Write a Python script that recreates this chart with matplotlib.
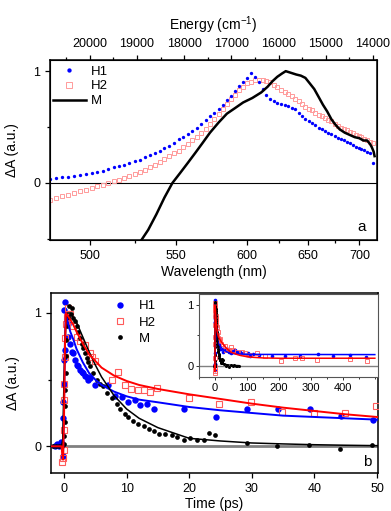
import numpy as np
import matplotlib
matplotlib.use("Agg")
import matplotlib.pyplot as plt
from matplotlib.ticker import MultipleLocator, FixedLocator

plt.rcParams['font.family'] = ['Liberation Sans', 'DejaVu Sans']
plt.rcParams['mathtext.fontset'] = 'custom'
plt.rcParams['mathtext.rm'] = 'Liberation Sans'
plt.rcParams['mathtext.it'] = 'Liberation Sans'

# ---------------- Panel a: spectra ----------------
h1_wl = [480, 483, 486, 489, 492, 495, 498, 501, 504, 507, 510, 513, 516, 519, 522, 525, 528, 531, 534, 537,
         540, 543, 546, 549, 552, 555, 558, 561, 564, 567, 570, 573, 576, 579, 582, 585, 588, 591, 594, 597,
         600, 603, 606, 609, 612, 615, 618, 621, 624, 627, 630, 633, 636, 639, 642, 645, 648, 651, 654, 657,
         660, 663, 666, 669, 672, 675, 678, 681, 684, 687, 690, 693, 696, 699, 702, 705, 708, 711, 714]
h1_val = [0.04, 0.045, 0.05, 0.055, 0.065, 0.07, 0.08, 0.09, 0.10, 0.11, 0.125, 0.14, 0.155, 0.165, 0.18, 0.195,
          0.21, 0.23, 0.25, 0.27, 0.29, 0.31, 0.33, 0.36, 0.39, 0.415, 0.44, 0.465, 0.49, 0.525, 0.56, 0.595,
          0.63, 0.665, 0.70, 0.74, 0.78, 0.825, 0.87, 0.905, 0.94, 0.98, 0.95, 0.90, 0.84, 0.79, 0.75, 0.73,
          0.715, 0.705, 0.695, 0.685, 0.675, 0.66, 0.63, 0.60, 0.575, 0.555, 0.535, 0.515, 0.495, 0.48, 0.465,
          0.45, 0.435, 0.42, 0.405, 0.39, 0.38, 0.37, 0.355, 0.34, 0.325, 0.315, 0.305, 0.295, 0.28, 0.27, 0.18]

h2_wl = [480, 483, 486, 489, 492, 495, 498, 501, 504, 507, 510, 513, 516, 519, 522, 525, 528, 531, 534, 537,
         540, 543, 546, 549, 552, 555, 558, 561, 564, 567, 570, 573, 576, 579, 582, 585, 588, 591, 594, 597,
         600, 603, 606, 609, 612, 615, 618, 621, 624, 627, 630, 633, 636, 639, 642, 645, 648, 651, 654, 657,
         660, 663, 666, 669, 672, 675, 678, 681, 684, 687, 690, 693, 696, 699, 702, 705, 708, 711, 714]
h2_val = [-0.15, -0.135, -0.12, -0.105, -0.09, -0.075, -0.06, -0.045, -0.03, -0.015, 0.0, 0.015, 0.03, 0.045,
          0.065, 0.08, 0.10, 0.12, 0.14, 0.165, 0.19, 0.215, 0.24, 0.265, 0.29, 0.32, 0.35, 0.38, 0.41, 0.445,
          0.48, 0.525, 0.57, 0.615, 0.66, 0.705, 0.75, 0.79, 0.83, 0.86, 0.89, 0.905, 0.92, 0.925, 0.92, 0.91,
          0.90, 0.88, 0.86, 0.835, 0.81, 0.795, 0.78, 0.755, 0.73, 0.705, 0.68, 0.665, 0.65, 0.63, 0.61, 0.595,
          0.58, 0.565, 0.55, 0.53, 0.51, 0.495, 0.48, 0.47, 0.46, 0.445, 0.43, 0.42, 0.41, 0.395, 0.38, 0.37, 0.36]

m_wl = [529, 533, 538, 543, 548, 553, 558, 563, 568, 573, 579, 585, 591, 597, 604, 611, 616, 620, 624, 628,
        631, 634, 637, 640, 644, 648, 652, 656, 660, 664, 668, 672, 676, 680, 685, 690, 695, 700, 704, 708,
        711, 713, 715, 716]
m_val = [-0.51, -0.42, -0.28, -0.13, 0.0, 0.09, 0.18, 0.27, 0.36, 0.45, 0.54, 0.62, 0.67, 0.72, 0.76, 0.81,
         0.86, 0.91, 0.95, 0.98, 1.0, 0.99, 0.98, 0.97, 0.96, 0.94, 0.89, 0.84, 0.77, 0.70, 0.64, 0.57, 0.52,
         0.48, 0.45, 0.43, 0.41, 0.40, 0.38, 0.38, 0.35, 0.32, 0.28, 0.24]

wl_ticks = [500, 550, 600, 650, 700]
wl_minor = [525, 575, 625, 675]
energy_ticks = [20000, 19000, 18000, 17000, 16000, 15000, 14000]
energy_minor = [20500, 19500, 18500, 17500, 16500, 15500, 14500]

# ---------------- Panel b: kinetics ----------------
h1_t = [-1.5, -1.1, -0.8, -0.5, -0.3, -0.2, -0.15, -0.1, 0.0, 0.0, 0.1, 0.05, 0.15, 0.45, 0.6, 0.7, 0.95,
        1.2, 1.5, 1.75, 2.1, 2.3, 2.55, 2.8, 3.1, 3.4, 3.6, 3.9, 4.1, 4.9, 7.1, 8.1, 9.2, 10.3, 11.3, 12.1,
        13.2, 14.3, 19.1, 24.3, 29.2, 34.2, 39.3, 44.3, 49.3]
h1_v = [0.0, 0.02, 0.0, 0.03, 0.01, -0.07, 0.21, 0.33, 0.47, 0.65, 0.72, 1.02, 1.08, 0.97, 0.92, 0.82, 0.77,
        0.71, 0.70, 0.65, 0.61, 0.60, 0.57, 0.56, 0.55, 0.53, 0.52, 0.50, 0.51, 0.46, 0.46, 0.38, 0.37, 0.33,
        0.35, 0.31, 0.32, 0.28, 0.28, 0.22, 0.28, 0.28, 0.28, 0.23, 0.20]

h2_t = [-0.25, -0.15, -0.05, 0.0, 0.0, 0.05, 0.1, 0.1, 0.3, 0.45, 0.7, 0.95, 1.5, 2.0, 2.6, 3.3, 4.1, 4.4,
        5.0, 7.6, 8.7, 9.7, 10.7, 11.8, 12.8, 13.8, 14.8, 19.9, 24.8, 29.8, 34.9, 39.9, 44.9, 49.8]
h2_v = [-0.12, -0.09, -0.03, 0.12, 0.35, 0.47, 0.67, 0.81, 0.92, 0.97, 1.04, 0.99, 0.90, 0.82, 0.79, 0.76,
        0.70, 0.67, 0.64, 0.50, 0.56, 0.46, 0.43, 0.42, 0.42, 0.41, 0.44, 0.36, 0.32, 0.33, 0.26, 0.25, 0.25, 0.30]

m_t = [-1.7, -1.2, -0.8, -0.4, 0.0, 0.05, 0.1, 0.15, 0.2, 0.25, 0.3, 0.35, 0.45, 0.6, 0.85, 1.07, 1.23, 1.5,
       1.76, 2.0, 2.3, 2.56, 2.8, 3.1, 3.35, 3.6, 3.9, 4.15, 4.7, 5.2, 5.75, 6.3, 6.8, 7.6, 8.4, 8.9, 9.7,
       10.3, 11.1, 11.9, 12.7, 13.5, 14.3, 15.1, 16.1, 17.2, 18.0, 19.1, 20.2, 21.2, 22.3, 23.1, 24.1, 29.2,
       34.1, 39.1, 44.1, 49.2]
m_v = [0.0, 0.0, 0.0, 0.0, 0.02, 0.08, 0.18, 0.3, 0.42, 0.55, 0.68, 0.8, 0.9, 0.97, 1.05, 0.99, 1.04, 0.96,
       0.94, 0.90, 0.86, 0.81, 0.77, 0.74, 0.70, 0.66, 0.63, 0.60, 0.55, 0.50, 0.47, 0.45, 0.40, 0.36, 0.32,
       0.28, 0.24, 0.22, 0.19, 0.17, 0.15, 0.13, 0.115, 0.09, 0.095, 0.088, 0.07, 0.045, 0.06, 0.05, 0.045,
       0.10, 0.085, 0.025, 0.0, 0.013, -0.02, 0.008]

# long-delay points (inset only)
h1_t_long = [55, 62, 70, 78, 88, 99, 104, 110, 119, 137, 178, 219, 266, 323, 369, 421, 473]
h1_v_long = [0.24, 0.26, 0.22, 0.23, 0.21, 0.18, 0.20, 0.16, 0.19, 0.18, 0.16, 0.165, 0.15, 0.19, 0.16, 0.18, 0.14]
h2_t_long = [57, 70, 83, 94, 110, 130, 156, 208, 250, 271, 320, 422, 474]
h2_v_long = [0.26, 0.22, 0.23, 0.20, 0.17, 0.20, 0.16, 0.08, 0.12, 0.12, 0.09, 0.11, 0.07]
m_t_long = [55, 60, 65, 70, 75]
m_v_long = [0.0, 0.005, -0.005, 0.0, 0.0]

# fit curves
fit_h1_t = [-2, -0.4, -0.15, 0.0, 0.15, 0.3, 0.6, 1, 1.5, 2, 3, 4, 5, 6, 8, 10, 12, 15, 20, 25, 30, 35, 40,
            45, 50, 60, 80, 100, 150, 500]
fit_h1_v = [0.0, 0.0, -0.05, 0.3, 0.8, 1.0, 0.93, 0.86, 0.80, 0.73, 0.63, 0.55, 0.50, 0.46, 0.41, 0.375, 0.35,
            0.33, 0.295, 0.27, 0.25, 0.23, 0.22, 0.21, 0.20, 0.195, 0.19, 0.185, 0.183, 0.18]
fit_h2_t = [-2, -0.4, -0.15, 0.0, 0.15, 0.3, 0.6, 1, 1.5, 2, 3, 4, 5, 6, 8, 10, 12, 15, 20, 25, 30, 35, 40,
            45, 50, 60, 70, 80, 100, 120, 150, 200, 500]
fit_h2_v = [0.0, 0.0, -0.10, 0.2, 0.75, 1.0, 0.98, 0.95, 0.91, 0.86, 0.77, 0.69, 0.64, 0.59, 0.53, 0.49, 0.46,
            0.43, 0.39, 0.355, 0.32, 0.29, 0.265, 0.24, 0.22, 0.20, 0.18, 0.165, 0.145, 0.135, 0.125, 0.12, 0.12]
fit_m_t = [-2, -0.4, -0.2, 0.0, 0.3, 0.6, 1, 2, 3, 4, 5, 6, 8, 10, 12, 15, 20, 25, 30, 35, 40, 45, 50, 75]
fit_m_v = [0.0, 0.0, 0.05, 0.5, 0.95, 1.0, 1.0, 0.93, 0.82, 0.71, 0.61, 0.52, 0.38, 0.28, 0.21, 0.14, 0.06,
           0.04, 0.025, 0.018, 0.012, 0.008, 0.005, 0.0]

BLUE = '#0000ff'
RED = '#ff0000'
PINK = '#ff9a9a'
SQ_RED = '#ff5a5a'

fig = plt.figure(figsize=(3.91, 5.11), dpi=100)

# ---------- Panel a ----------
axa = fig.add_axes([0.1279, 0.5303, 0.8363, 0.3523])
to_e = lambda wl: 1e7 / np.asarray(wl, dtype=float)
axa.axhline(0, color='black', lw=0.8, zorder=1)
axa.plot(to_e(h2_wl), h2_val, linestyle='none', marker='s', ms=3.2, mfc='none', mec=PINK, mew=0.7,
         label='H2', zorder=2)
axa.plot(to_e(h1_wl), h1_val, linestyle='none', marker='o', ms=2.4, color=BLUE, mew=0, label='H1', zorder=3)
axa.plot(to_e(m_wl), m_val, color='black', lw=1.8, label='M', zorder=4)
axa.set_xlim(20840, 13915)
axa.set_ylim(-0.51, 1.1)
axa.set_xticks(to_e(wl_ticks))
axa.set_xticklabels([str(w) for w in wl_ticks])
axa.xaxis.set_minor_locator(FixedLocator(to_e(wl_minor)))
axa.set_yticks([0, 1])
axa.set_yticklabels(['0', '1'])
axa.yaxis.set_minor_locator(FixedLocator([-0.5, 0.5]))
axa.tick_params(which='both', direction='out', labelsize=9, right=False, top=False)
axa.tick_params(which='major', length=3.5, width=0.9)
axa.tick_params(which='minor', length=2.5, width=0.9)
axa.set_xlabel('Wavelength (nm)', fontsize=10, labelpad=2)
axa.set_ylabel('ΔA (a.u.)', fontsize=10, labelpad=10)
for s in axa.spines.values():
    s.set_linewidth(1.1)
axt = axa.twiny()
axt.set_xlim(axa.get_xlim())
axt.set_xticks(energy_ticks)
axt.set_xticklabels([str(e) for e in energy_ticks])
axt.xaxis.set_minor_locator(FixedLocator(energy_minor))
axt.tick_params(which='both', direction='out', labelsize=9)
axt.tick_params(which='major', length=3.5, width=0.9)
axt.tick_params(which='minor', length=2.5, width=0.9)
axt.set_xlabel('Energy (cm$^{-1}$)', fontsize=10, labelpad=6)
handles, labels = axa.get_legend_handles_labels()
order = [labels.index('H1'), labels.index('H2'), labels.index('M')]
axa.legend([handles[i] for i in order], [labels[i] for i in order], loc='upper left',
           bbox_to_anchor=(0.0, 0.985), frameon=False, fontsize=9.5, handlelength=2.5,
           handletextpad=0.4, labelspacing=0.2, borderaxespad=0, borderpad=0.2, markerscale=1.3)
axa.text(0.954, 0.072, 'a', transform=axa.transAxes, fontsize=11, ha='center', va='center')

# ---------- Panel b ----------
axb = fig.add_axes([0.1304, 0.0744, 0.8363, 0.3523])
axb.axhline(0, color='#808080', lw=2.0, zorder=1)
axb.plot(h1_t, h1_v, linestyle='none', marker='o', ms=4.6, color=BLUE, mew=0, label='H1', zorder=3)
axb.plot(h2_t, h2_v, linestyle='none', marker='s', ms=4.3, mfc='none', mec=SQ_RED, mew=0.8, label='H2',
         zorder=3)
axb.plot(m_t, m_v, linestyle='none', marker='o', ms=3.4, color='black', mew=0, label='M', zorder=3)
axb.plot(fit_h1_t, fit_h1_v, color=BLUE, lw=1.4, zorder=4)
axb.plot(fit_h2_t, fit_h2_v, color=RED, lw=1.4, zorder=5)
axb.plot(fit_m_t, fit_m_v, color='black', lw=1.1, zorder=4)
axb.set_xlim(-2.08, 50.16)
axb.set_ylim(-0.2, 1.15)
axb.set_xticks([0, 10, 20, 30, 40, 50])
axb.set_yticks([0, 1])
axb.set_yticklabels(['0', '1'])
axb.yaxis.set_minor_locator(FixedLocator([0.5]))
axb.tick_params(which='both', direction='out', labelsize=9, right=False, top=False)
axb.tick_params(which='major', length=3.5, width=0.9)
axb.tick_params(which='minor', length=2.5, width=0.9)
axb.set_xlabel('Time (ps)', fontsize=10, labelpad=2)
axb.set_ylabel('ΔA (a.u.)', fontsize=10, labelpad=10)
for s in axb.spines.values():
    s.set_linewidth(1.1)
axb.legend(loc='upper left', bbox_to_anchor=(0.18, 0.975), frameon=False, fontsize=9.5,
           handlelength=1.2, handletextpad=0.8, labelspacing=0.3, borderaxespad=0, borderpad=0.2)
axb.text(0.966, 0.061, 'b', transform=axb.transAxes, fontsize=11, ha='center', va='center')

# ---------- Inset ----------
axi = fig.add_axes([0.509, 0.2622, 0.4578, 0.1624])
axi.axhline(0, color='#808080', lw=1.0, zorder=1)
axi.plot(list(h1_t) + h1_t_long, list(h1_v) + h1_v_long, linestyle='none', marker='o', ms=2.6, color=BLUE,
         mew=0, zorder=3)
axi.plot(list(h2_t) + h2_t_long, list(h2_v) + h2_v_long, linestyle='none', marker='s', ms=2.8, mfc='none',
         mec=SQ_RED, mew=0.6, zorder=3)
axi.plot(list(m_t) + m_t_long, list(m_v) + m_v_long, linestyle='none', marker='o', ms=2.2, color='black',
         mew=0, zorder=3)
axi.plot(fit_h1_t, fit_h1_v, color=BLUE, lw=1.1, zorder=4)
axi.plot(fit_h2_t, fit_h2_v, color=RED, lw=1.1, zorder=5)
axi.plot(fit_m_t, fit_m_v, color='black', lw=0.9, zorder=4)
axi.set_xlim(-50, 510)
axi.set_ylim(-0.19, 1.18)
axi.set_xticks([0, 100, 200, 300, 400])
axi.xaxis.set_minor_locator(MultipleLocator(50))
axi.set_yticks([0, 1])
axi.set_yticklabels(['0', '1'])
axi.yaxis.set_minor_locator(FixedLocator([0.5]))
axi.tick_params(which='both', direction='out', labelsize=8, pad=1.5, colors='#333333', labelcolor='black')
axi.tick_params(which='major', length=2.5, width=0.7)
axi.tick_params(which='minor', length=1.5, width=0.7)
for s in axi.spines.values():
    s.set_linewidth(0.8)
    s.set_color('#555555')

fig.savefig('out.png', dpi=100)
